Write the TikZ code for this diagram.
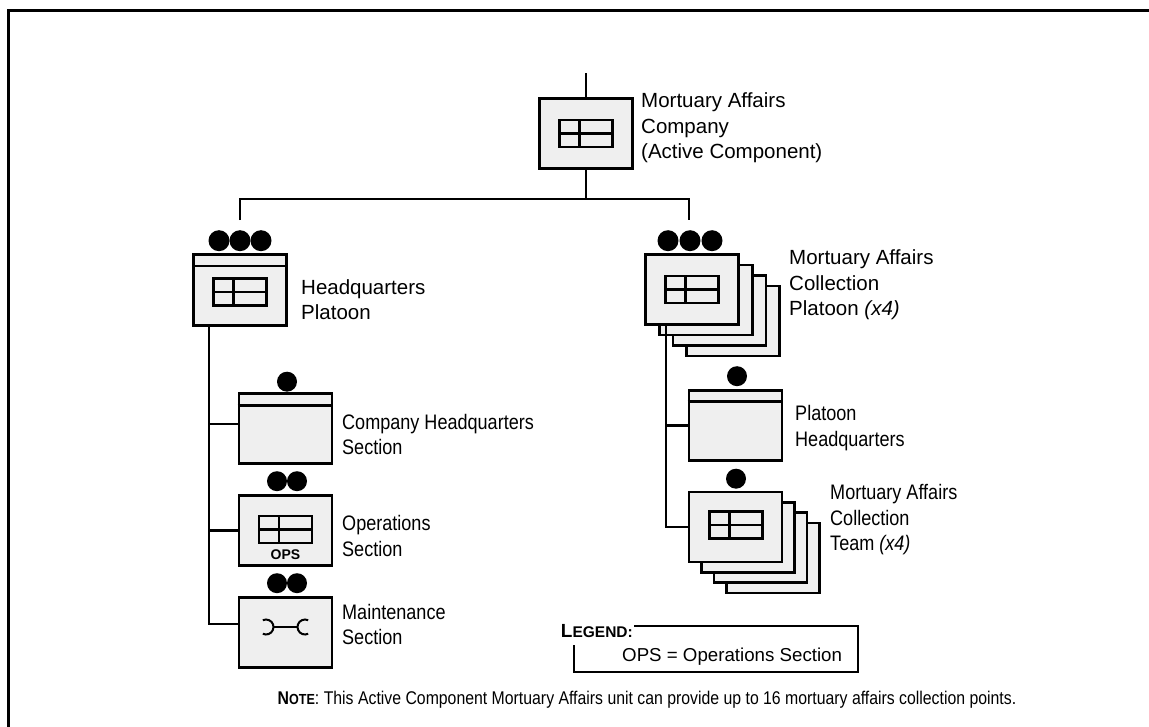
\documentclass[tikz,border=0pt]{standalone}
\usepackage{fontspec}
\setmainfont{Liberation Sans}
\newfontfamily\narrowfont{Liberation Sans}[FakeStretch=0.86]
\usetikzlibrary{positioning}
\definecolor{unitgray}{HTML}{EFEFEF}

\begin{document}
\begin{tikzpicture}[x=1pt, y=-1pt, line width=2.4pt]
  \tikzstyle{unit}=[rectangle, draw, line width=2.6pt, fill=unitgray, minimum width=93pt, minimum height=70pt, inner sep=0pt]
  \tikzstyle{brsym}=[rectangle, draw, line width=2.4pt, minimum width=53pt, minimum height=27pt, inner sep=0pt,
    path picture={\draw[line width=2.4pt] ([xshift=20pt]path picture bounding box.north west) -- ([xshift=20pt]path picture bounding box.south west)
      (path picture bounding box.west) -- (path picture bounding box.east);}]
  \tikzstyle{lbl}=[align=left, inner sep=0pt, anchor=west, font=\fontsize{20.5}{25.5}\selectfont]
  \tikzstyle{nlbl}=[align=left, inner sep=0pt, anchor=west, font=\narrowfont\fontsize{21}{25.5}\selectfont]
  \useasboundingbox (0,0) rectangle (1149,727);
  \draw[line width=3pt] (8,727) -- (8,11) -- (1149,11);
  % company
  \node[unit] (co) at (586,133.5) {};
  \node[brsym] (cosym) at (co) {};
  \node[lbl] (colbl) at (640,128) {Mortuary Affairs\\Company\\(Active Component)};
  \coordinate (cotop) at ([yshift=24pt]co.north);
  \coordinate (bus) at ([yshift=-29pt]co.south);
  \draw (cotop) -- (co.north);
  \draw (co.south) -- (bus);
  % platoons
  \node[unit, minimum height=71pt] (hqplt) at (240,290) {};
  \draw[line width=2.6pt] ([yshift=-13pt]hqplt.north west) -- ([yshift=-13pt]hqplt.north east);
  \node[brsym] (hqsym) at ([yshift=-2pt]hqplt) {};
  \foreach \dx in {-21,0,21}
    \fill ([xshift=\dx pt, yshift=12.5pt]hqplt.north) circle (10.5);
  \node[lbl] (hqlbl) at (300,299.5) {Headquarters\\Platoon};
  \foreach \k in {3,2,1}
    \node[unit] (cp\k) at (692+13.7*\k, 289.5+10.5*\k) {};
  \node[unit] (collplt) at (692,289.5) {};
  \node[brsym] (cpsym) at (collplt) {};
  \foreach \dx in {-24,-2,20}
    \fill ([xshift=\dx pt, yshift=12.5pt]collplt.north) circle (10.5);
  \node[lbl] (cplbl) at (788,285) {Mortuary Affairs\\Collection\\Platoon \textit{(x4)}};
  \coordinate (hqtop) at ([yshift=33pt]hqplt.north);
  \coordinate (cptop) at ([xshift=-3pt, yshift=33pt]collplt.north);
  \draw (hqtop) |- (bus) -| (cptop);
  % hq platoon sections
  \node[unit] (cohq) at (285.5,428.5) {};
  \draw[line width=2.6pt] ([yshift=-13pt]cohq.north west) -- ([yshift=-13pt]cohq.north east);
  \fill ([xshift=1.5pt, yshift=10.5pt]cohq.north) circle (10);
  \node[nlbl] (cohqlbl) at (341,434.5) {Company Headquarters\\Section};
  \node[unit] (ops) at (285.5,530.5) {};
  \node[brsym] (opssym) at ([yshift=1pt]ops) {};
  \node[inner sep=0pt, font=\bfseries\fontsize{14}{14}\selectfont] (opstxt) at ([yshift=-24.5pt]ops) {OPS};
  \foreach \dx in {-8.5,11.5}
    \fill ([xshift=\dx pt, yshift=13pt]ops.north) circle (10);
  \node[nlbl] (opslbl) at (341,536) {Operations\\Section};
  \node[unit] (maint) at (285.5,632.5) {};
  \foreach \dx in {-8.5,11.5}
    \fill ([xshift=\dx pt, yshift=13pt]maint.north) circle (10);
  \draw[line width=2pt] (273,627) -- (297,627);
  \draw[line width=2pt] (266,627) ++(115:7.5) arc (115:-115:7.5);
  \draw[line width=2pt] (305,627) ++(65:7.5) arc (65:295:7.5);
  \node[nlbl] (maintlbl) at (341,624.5) {Maintenance\\Section};
  \coordinate (lsp) at ([xshift=17pt]hqplt.south west);
  \coordinate (cohqin) at ([yshift=4.5pt]cohq.west);
  \coordinate (maintin) at ([yshift=8.5pt]maint.west);
  \draw (lsp) |- (maintin);
  \draw (cohqin) -- (cohqin -| lsp);
  \draw (ops.west) -- (ops.west -| lsp);
  % collection platoon sections
  \node[unit] (plthq) at (735.5,425.5) {};
  \draw[line width=2.6pt] ([yshift=-12pt]plthq.north west) -- ([yshift=-12pt]plthq.north east);
  \fill ([xshift=1.5pt, yshift=13pt]plthq.north) circle (10);
  \node[nlbl] (plthqlbl) at (794,428) {Platoon\\Headquarters};
  \foreach \k in {3,2,1}
    \node[unit] (tm\k) at (735.5+12.5*\k, 527+10.3*\k) {};
  \node[unit] (team) at (735.5,527) {};
  \node[brsym] (tmsym) at ([xshift=0.5pt, yshift=2pt]team) {};
  \fill ([xshift=0.5pt, yshift=12pt]team.north) circle (10);
  \node[nlbl] (tmlbl) at (829,520) {Mortuary Affairs\\Collection\\Team \textit{(x4)}};
  \coordinate (rsp) at ([xshift=22pt]collplt.south west);
  \draw (rsp) |- (team.west);
  \draw (plthq.west) -- (plthq.west -| rsp);
  % legend and note
  \node[inner sep=0pt, anchor=base east, font=\bfseries] (lgd) at (634,637) {\fontsize{19}{19}\selectfont L\fontsize{15.5}{19}\selectfont EGEND:};
  \coordinate (lgtr) at (858,626);
  \coordinate (lgbl) at (574,672);
  \coordinate (lgl) at (574,645);
  \draw (lgd.east |- lgtr) -- (lgtr) |- (lgbl) -- (lgl);
  \node[inner sep=0pt, anchor=west, font=\fontsize{18.7}{18.7}\selectfont] (lgtxt) at (621,657) {OPS = Operations Section};
  \node[inner sep=0pt, font=\narrowfont\fontsize{18.4}{18.4}\selectfont] (note) at (647,700)
    {{\bfseries N\fontsize{14.6}{18.4}\selectfont OTE}: This Active Component Mortuary Affairs unit can provide up to 16 mortuary affairs collection points.};
\end{tikzpicture}
\end{document}
